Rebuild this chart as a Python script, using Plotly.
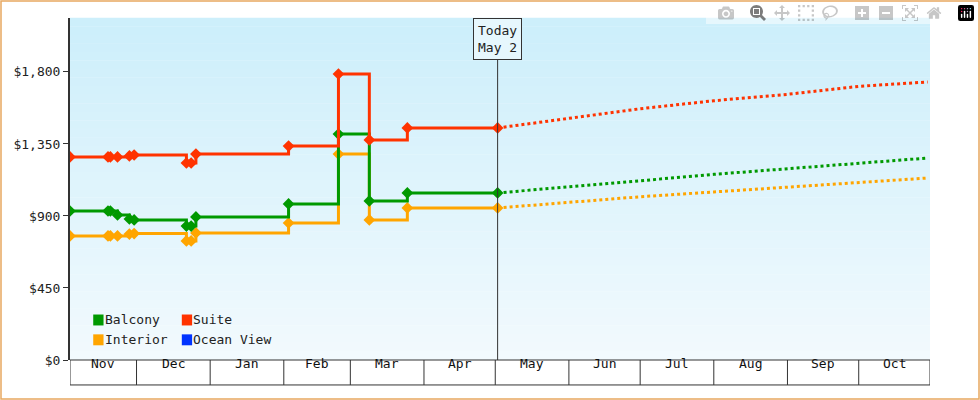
import plotly.graph_objects as go
import pandas as pd

dates = ["2024-11-03","2024-11-19","2024-11-20","2024-11-23","2024-11-28","2024-11-30",
         "2024-12-22","2024-12-24","2024-12-26","2025-02-03","2025-02-24","2025-03-09",
         "2025-03-25","2025-05-02"]
suite = [1269,1269,1269,1269,1275,1281,1231,1231,1287,1337,1787,1375,1450,1450]
balcony = [931,931,931,906,881,875,837,837,894,975,1412,994,1044,1044]
interior = [775,775,775,775,787,790,744,744,794,856,1287,875,950,950]

fdates = ["2025-05-02","2025-06-01","2025-07-01","2025-08-01","2025-09-01","2025-10-01","2025-10-30"]
fsuite = [1450,1510,1570,1620,1660,1710,1737]
fbalcony = [1044,1080,1120,1160,1195,1230,1262]
finterior = [950,985,1020,1050,1080,1110,1137]

months = ["Nov","Dec","Jan","Feb","Mar","Apr","May","Jun","Jul","Aug","Sep","Oct"]
mstarts = ["2024-11-03","2024-12-01","2025-01-01","2025-02-01","2025-03-01","2025-04-01",
           "2025-05-01","2025-06-01","2025-07-01","2025-08-01","2025-09-01","2025-10-01","2025-10-31"]
yticks = [0,450,900,1350,1800]

X0, X1 = "2024-11-03", "2025-10-31"
YMAX = 2137
colors = {"Balcony":"#009900","Suite":"#ff3300","Interior":"#ffa500","Ocean View":"#0033ff"}
FONT = "DejaVu Sans Mono"

fig = go.Figure()
for name, vals, fv in [("Interior",interior,finterior),("Balcony",balcony,fbalcony),("Suite",suite,fsuite)]:
    c = colors[name]
    fig.add_trace(go.Scatter(x=dates, y=vals, mode="lines+markers", line=dict(color=c, width=3, shape="hv"),
                             marker=dict(symbol="diamond", size=9, color=c), showlegend=False))
    fig.add_trace(go.Scatter(x=fdates, y=fv, mode="lines", line=dict(color=c, width=3, dash="dot"),
                             showlegend=False))

shapes = []
N = 40
def lerp(a, b, t): return int(a + (b - a) * t)
top = (205, 239, 251); bot = (242, 250, 254)
for i in range(N):
    t = i / (N - 1)
    col = "rgb(%d,%d,%d)" % (lerp(top[0],bot[0],t), lerp(top[1],bot[1],t), lerp(top[2],bot[2],t))
    shapes.append(dict(type="rect", xref="paper", yref="paper", x0=0, x1=1, y0=1 - (i+1)/N, y1=1 - i/N + 0.001,
                       fillcolor=col, line=dict(width=0), layer="below"))
shapes.append(dict(type="line", xref="x", yref="paper", x0="2025-05-02", x1="2025-05-02", y0=0, y1=0.88,
                   line=dict(color="#333", width=1)))
for d in mstarts:
    shapes.append(dict(type="line", xref="x", yref="paper", x0=d, x1=d, y0=0, y1=-0.073,
                       line=dict(color="#333", width=1)))
shapes.append(dict(type="line", xref="paper", yref="paper", x0=0, x1=1, y0=-0.073, y1=-0.073,
                   line=dict(color="#333", width=1)))
shapes.append(dict(type="line", xref="paper", yref="paper", x0=0, x1=1, y0=0, y1=0,
                   line=dict(color="#333", width=1)))
shapes.append(dict(type="rect", xref="paper", yref="paper", x0=-69/860, x1=1+49/860, y0=-39/342, y1=1+17/342,
                   line=dict(color="#e8a860", width=1.5)))

ann = []
for i, m in enumerate(months):
    a = pd.Timestamp(mstarts[i]); b = pd.Timestamp(mstarts[i+1])
    ann.append(dict(x=a + (b - a) / 2, y=-0.037, xref="x", yref="paper", text=m, showarrow=False,
                    font=dict(family=FONT, size=13, color="#111")))
ann.append(dict(x="2025-05-02", y=1.0, xref="x", yref="paper", text="Today<br>May 2", showarrow=False,
                yanchor="top", bgcolor="#e6f7fd", bordercolor="#333", borderwidth=1, borderpad=4,
                font=dict(family=FONT, size=13, color="#222")))
legend = [("Balcony",0.027,0.117),("Suite",0.13,0.117),("Interior",0.027,0.059),("Ocean View",0.13,0.059)]
for name, lx, ly in legend:
    shapes.append(dict(type="rect", xref="paper", yref="paper", x0=lx, x1=lx+0.012, y0=ly-0.016, y1=ly+0.016,
                       fillcolor=colors[name], line=dict(width=0)))
    ann.append(dict(x=lx+0.011, y=ly, xref="paper", yref="paper", text=name, showarrow=False, xanchor="left",
                    yanchor="middle", font=dict(family=FONT, size=13, color="#222")))

fig.update_layout(
    width=980, height=400, margin=dict(l=70, r=50, t=18, b=40),
    paper_bgcolor="white", plot_bgcolor="rgba(0,0,0,0)",
    shapes=shapes, annotations=ann, showlegend=False,
    xaxis=dict(range=[X0, X1], showgrid=False, showticklabels=False, ticks="", zeroline=False),
    yaxis=dict(range=[0, YMAX], tickvals=yticks, ticktext=["$%s" % format(v, ",") for v in yticks],
               showgrid=False, zeroline=False, showline=True, linecolor="#333", linewidth=2,
               ticks="outside", ticklen=5, tickcolor="#333",
               tickfont=dict(family=FONT, size=13, color="#222")),
)
fig.write_html("out.html", post_script="document.body.style.margin='0';")
